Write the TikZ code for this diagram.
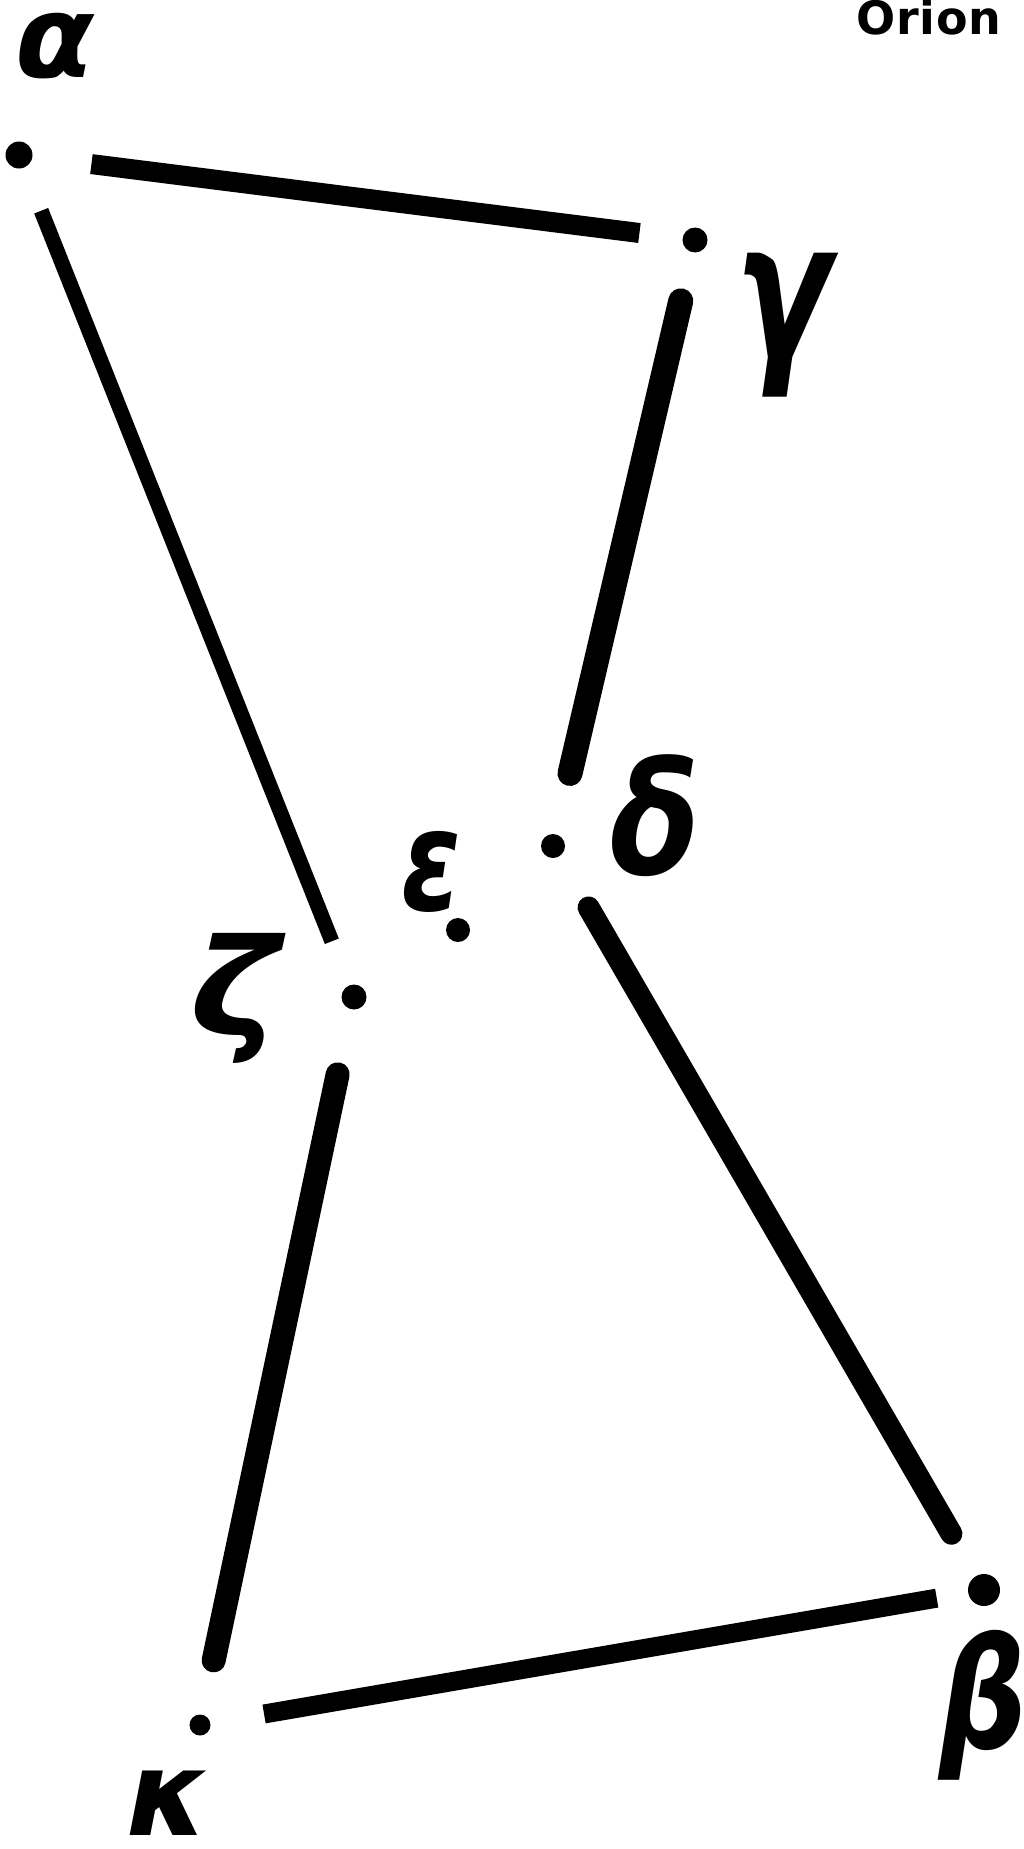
\documentclass[tikz,border=0pt]{standalone}
\usepackage{fontspec}
\usepackage{graphicx}
\newfontfamily\gk{DejaVu Sans}
\newfontfamily\orionfont[LetterSpace=1.5]{DejaVu Sans}
\tikzset{
  star/.style={circle,fill=black,inner sep=0pt,draw=none},
  glyph/.style={inner sep=0pt,outer sep=0pt},
  con/.style={draw=black,line cap=butt},
}
\newcommand{\gl}[3]{\resizebox*{#1pt}{#2pt}{\gk\bfseries\itshape #3}}
\newcommand{\gs}[2]{{\gk\bfseries\itshape\fontsize{#1}{#1}\selectfont #2}}
\begin{document}
\begin{tikzpicture}[x=1pt,y=-1pt]
\useasboundingbox[fill=white] (0,0) rectangle (1024,1849);
% stars
\node[star,minimum size=27pt] (a) at (19,155) {};
\node[star,minimum size=25pt] (g) at (695,240) {};
\node[star,minimum size=24pt] (d) at (553,846) {};
\node[star,minimum size=24pt] (e) at (458,930) {};
\node[star,minimum size=25pt] (z) at (354,997) {};
\node[star,minimum size=32pt] (b) at (984,1590) {};
\node[star,minimum size=21pt] (k) at (200,1725) {};
% labels
\node[glyph] (la) at (55,46) {\gs{115}{α}};
\node[glyph] (lg) at (783,325) {\gl{95}{144}{γ}};
\node[glyph] (ld) at (656,816) {\gl{90}{122}{δ}};
\node[glyph] (le) at (431,872) {\gl{60}{81}{ε}};
\node[glyph] (lz) at (236,998) {\gl{90}{130}{ζ}};
\node[glyph] (lb) at (983,1705) {\gl{88}{150}{β}};
\node[glyph] (lk) at (168,1803) {\gs{118}{κ}};
\node[anchor=base,inner sep=0pt] (title) at (929,35) {\orionfont\bfseries\fontsize{46}{46}\selectfont Orion};
% connectors
\draw[con,line width=20pt,shorten <=73pt,shorten >=56pt] (a.center) -- (g.center);
\draw[con,line width=15pt,shorten <=60pt,shorten >=60pt] (a.center) -- (z.center);
\draw[con,line width=25pt,line cap=round,shorten <=62.5pt,shorten >=74.5pt] (g.center) -- (d.center);
\draw[con,line width=22pt,line cap=round,shorten <=71pt,shorten >=65pt] (d.center) -- (b.center);
\draw[con,line width=24pt,line cap=round,shorten <=79pt,shorten >=66pt] (z.center) -- (k.center);
\draw[con,line width=19pt,shorten <=65pt,shorten >=48pt] (k.center) -- (b.center);
\end{tikzpicture}
\end{document}
